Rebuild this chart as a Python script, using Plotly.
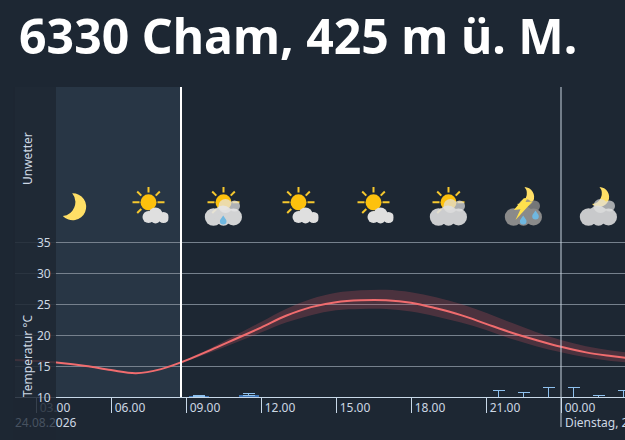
import base64
import pandas as pd
import plotly.graph_objects as go

TITLE = "6330 Cham, 425 m ü. M."
hours = [2, 3, 4, 5, 6, 7, 8, 9, 10, 11, 12, 13, 14, 15, 16, 17, 18, 19, 20, 21, 22, 23, 24, 25, 26, 27]
temp = [16.0, 15.8, 15.5, 15.0, 14.35, 13.85, 14.5, 15.9, 17.6, 19.4, 21.2, 23.1, 24.5, 25.3, 25.6, 25.6, 25.2, 24.3, 23.2, 21.8, 20.4, 19.2, 18.1, 17.2, 16.6, 16.1]
band_hours = [8.8, 9, 10, 11, 12, 13, 14, 15, 16, 17, 18, 19, 20, 21, 22, 23, 24, 25, 26, 27]
temp_high = [15.4, 16.0, 17.9, 20.0, 22.1, 24.2, 25.8, 26.8, 27.2, 27.3, 26.9, 26.1, 25.0, 23.6, 22.0, 20.5, 19.2, 18.2, 17.5, 17.0]
temp_low = [15.4, 15.7, 17.2, 18.8, 20.4, 22.0, 23.2, 24.0, 24.2, 24.2, 23.8, 23.0, 22.0, 20.8, 19.4, 18.2, 17.2, 16.4, 15.8, 15.5]
rain_hours = [9.5, 11.5, 21.5, 22.5, 23.5, 24.5, 25.5, 26.5]
rain = [0.1, 0.2, 0.0, 0.0, 0.0, 0.0, 0.0, 0.0]
rain_err = [0.1, 0.2, 0.7, 0.5, 1.0, 1.0, 0.2, 0.7]
tick_hours = [3, 6, 9, 12, 15, 18, 21, 24]
tick_labels = ["03.00", "06.00", "09.00", "12.00", "15.00", "18.00", "21.00", "00.00"]
y_ticks = [10, 15, 20, 25, 30, 35]
icon_hours = [4.5, 7.5, 10.5, 13.5, 16.5, 19.5, 22.5, 25.5]
icon_names = ["moon", "sun_cloud", "sun_rain", "sun_cloud", "sun_cloud", "sun_big", "storm", "moon_cloud"]
now_hour = 8.8
midnight_hour = 24

W, H = 625, 440
L, R, T, B = 15, 0, 87, 43
PW, PH = W - L - R, H - T - B
BG = "#1d2733"
TXT = "#cdd8e4"


def t(h):
    return pd.Timestamp("2026-08-24") + pd.to_timedelta(h, "h")


def ts(hs):
    return [t(h).strftime("%Y-%m-%d %H:%M:%S") for h in hs]


def px(x):
    return (x - L) / PW


def py(y):
    return (H - B - y) / PH


RAYS = "".join(
    f'<line x1="{x1}" y1="{y1}" x2="{x2}" y2="{y2}"/>'
    for x1, y1, x2, y2 in [(20, 0, 20, 5.5), (29, 15.3, 36, 15.3), (4, 15.3, 11, 15.3), (8.7, 4.5, 12.8, 8.6), (31.3, 4.5, 27.2, 8.6), (8.7, 26, 12.8, 22)]
)
SUN = f'<g stroke="#f6c82e" stroke-width="2">{RAYS}</g><circle cx="20" cy="15.3" r="8" fill="#fdc10d"/>'
SMALL_CLOUD = ('<g fill="#dfdfdf"><circle cx="20" cy="30" r="6"/><circle cx="27" cy="27.5" r="7"/>'
               '<circle cx="35" cy="30.5" r="5.5"/><circle cx="27" cy="31.5" r="5"/></g>')


def big_cloud(col, op=0.9):
    return (f'<g fill="{col}" opacity="{op * 0.8:.2f}"><circle cx="31" cy="19" r="5.5"/><circle cx="22" cy="19" r="7"/></g>'
            f'<g fill="{col}" opacity="{op}"><circle cx="10" cy="30" r="8.7"/><circle cx="19.5" cy="28" r="9.5"/><circle cx="30" cy="30" r="8.5"/>'
            '<circle cx="20" cy="32" r="6.8"/></g>')


def drop(x, y):
    return f'<path d="M{x} {y-4.5}c2 3 3.3 4.2 3.3 5.7a3.3 3.3 0 0 1-6.6 0c0-1.5 1.3-2.7 3.3-5.7z" fill="#6fb7e0"/>'


MOON = '<path d="M18.7 6.3A13.5 13.5 0 1 1 9.3 29A14 14 0 0 0 18.7 6.3z" fill="#ffdf66"/>'
TOP_MOON = '<path d="M21 0A10 10 0 1 1 13.5 17A10.5 10.5 0 0 0 21 0z" fill="#ffdf66"/>'
ICONS = {
    "moon": MOON,
    "sun_cloud": SUN + SMALL_CLOUD,
    "sun_rain": SUN + big_cloud("#e6e6e6") + drop(19.7, 33),
    "sun_big": SUN + big_cloud("#e0e0e0"),
    "storm": TOP_MOON + big_cloud("#8a8a8a", 1) + '<path d="M20.3 11.3L10.3 23L17 22.3L12 33L28.7 14.7L22 15L24 11z" fill="#ffe14d"/>' + drop(19.7, 33) + drop(32, 28),
    "moon_cloud": TOP_MOON + big_cloud("#e0e0e0", 0.88),
}


def icon_uri(name):
    svg = f'<svg xmlns="http://www.w3.org/2000/svg" viewBox="0 0 40 40" width="120" height="120">{ICONS[name]}</svg>'
    return "data:image/svg+xml;base64," + base64.b64encode(svg.encode()).decode()


fig = go.Figure()
fig.add_trace(go.Scatter(x=ts(band_hours), y=temp_high, mode="lines", line=dict(width=0, shape="spline"), hoverinfo="skip", showlegend=False))
fig.add_trace(go.Scatter(x=ts(band_hours), y=temp_low, mode="lines", line=dict(width=0, shape="spline"), fill="tonexty",
                         fillcolor="rgba(214,84,96,0.25)", hoverinfo="skip", showlegend=False))
fig.add_trace(go.Scatter(x=ts(hours), y=temp, mode="lines", line=dict(color="#f06c6e", width=2, shape="spline"), showlegend=False))
fig.add_trace(go.Bar(x=ts(rain_hours), y=rain, yaxis="y2", width=2880000, marker=dict(color="#3f74b5", line=dict(width=0)),
                     error_y=dict(type="data", symmetric=False, array=rain_err, arrayminus=[0] * len(rain_err),
                                  color="#8fc1ee", thickness=1, width=6), showlegend=False))

x_left, x_right = 2.16, 26.56
shapes = [
    dict(type="rect", xref="x", yref="paper", x0=t(x_left), x1=t(now_hour), y0=0, y1=1, fillcolor="#283645", line_width=0, layer="below"),
    dict(type="rect", xref="paper", yref="paper", x0=px(13), x1=px(56), y0=py(440), y1=1, fillcolor="rgba(29,39,51,0.85)", line_width=0, layer="above"),
    dict(type="line", xref="x", yref="paper", x0=t(now_hour), x1=t(now_hour), y0=0, y1=1, line=dict(color="#ffffff", width=2), layer="above"),
    dict(type="line", xref="x", yref="paper", x0=t(midnight_hour), x1=t(midnight_hour), y0=py(427), y1=1, line=dict(color="#c8d4e0", width=1), layer="above"),
]

ann = [dict(text=f"<b>{TITLE}</b>", xref="paper", yref="paper", x=px(19), y=py(35), xanchor="left", yanchor="middle", xshift=-2,
            showarrow=False, font=dict(family="Noto Sans", size=48.2, color="#ffffff"))]
for v in y_ticks:
    ann.append(dict(text=str(v), xref="paper", yref="y", x=px(53), y=v, xanchor="right", yanchor="middle", showarrow=False,
                    font=dict(family="Noto Sans", size=12, color=TXT)))
for text, yc in [("Temperatur °C", 356), ("Unwetter", 159)]:
    ann.append(dict(text=text, xref="paper", yref="paper", x=px(27), y=py(yc), xanchor="center", yanchor="middle", textangle=-90, showarrow=False,
                    font=dict(family="Noto Sans", size=12, color=TXT)))
ann.append(dict(text='<span style="color:#475260">24.08.2</span>026', xref="paper", yref="paper", x=px(15), y=py(422), xanchor="left",
                yanchor="middle", xshift=-2, showarrow=False, font=dict(family="Noto Sans", size=12, color=TXT)))
ann.append(dict(text="Dienstag, 25.08.2026", xref="x", yref="paper", x=t(midnight_hour), y=py(422), xanchor="left", yanchor="middle",
                xshift=2, showarrow=False, font=dict(family="Noto Sans", size=12, color=TXT)))

images = [dict(source=icon_uri(n), xref="x", yref="paper", x=t(h), y=py(207), sizex=1.6 * 3600000, sizey=40 / PH,
               xanchor="center", yanchor="middle", sizing="contain", layer="above") for h, n in zip(icon_hours, icon_names)]

fig.update_layout(
    width=W, height=H, margin=dict(l=L, r=R, t=T, b=B, pad=0), paper_bgcolor=BG, plot_bgcolor=BG,
    font=dict(family="Noto Sans", size=12, color=TXT), showlegend=False, shapes=shapes, annotations=ann, images=images, bargap=0,
    xaxis=dict(type="date", range=[t(x_left), t(x_right)], tickmode="array", tickvals=ts(tick_hours), ticktext=tick_labels,
               ticks="outside", ticklen=15, tickwidth=1, tickcolor="#c8d8e8", showgrid=False, showline=True, linecolor="#c8d8e8", linewidth=1,
               zeroline=False, ticklabelshift=19, ticklabelstandoff=-15, tickfont=dict(family="Noto Sans", size=12, color=TXT)),
    yaxis=dict(range=[10, 60], tickmode="array", tickvals=y_ticks, showticklabels=False, ticks="", showgrid=True, gridcolor="#76818d", gridwidth=1,
               zeroline=False, showline=False),
    yaxis2=dict(overlaying="y", range=[0, 31], showticklabels=False, ticks="", showgrid=False, zeroline=False, showline=False),
)
fig.write_html("out.html", config=dict(displayModeBar=False), post_script="document.body.style.margin='0';document.documentElement.style.overflow='hidden';")
